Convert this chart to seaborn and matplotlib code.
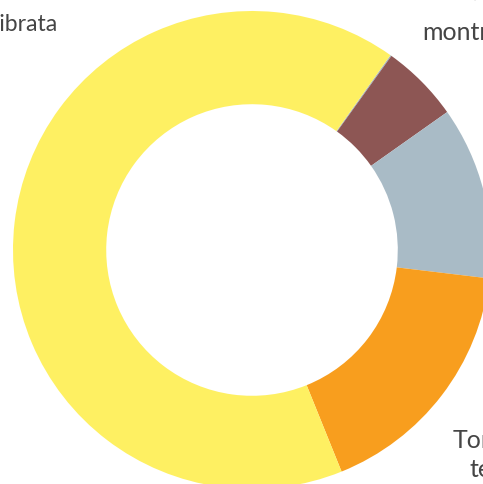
import matplotlib
matplotlib.use("Agg")
import matplotlib.pyplot as plt
import seaborn as sns

# ---- data ----
categories = ["Altro", "Marrone", "Grigio", "Arancio", "Calibrata"]
values = [0.08, 5.3, 11.7, 17.0, 66.0]
colors = ["#9FB2C4", "#8D5654", "#A9BBC6", "#F89E1E", "#FEF062"]

# labels (partially visible in the cropped view)
label_left = "Calibrata"
label_tr = ["Pulita,", "montrata"]
label_br = ["Torta", "tenera"]

sns.set_theme(style="white")
plt.rcParams["font.family"] = ["Lato", "DejaVu Sans"]

W, H = 483, 484
fig = plt.figure(figsize=(W / 100, H / 100), dpi=100)
ax = fig.add_axes([0, 0, 1, 1])

cx, cy = 252, H - 250
R = 239
ax.pie(values, colors=colors, startangle=54.6, counterclock=False,
       center=(cx, cy), radius=R, frame=True,
       wedgeprops=dict(width=R * 0.39, linewidth=0))
ax.set_xlim(0, W)
ax.set_ylim(0, H)
ax.set_aspect("equal")
ax.axis("off")

tc = "#454545"
fs = 18
ax.text(58, H - 31, label_left, ha="right", va="baseline", fontsize=16.6,
        color=tc)
ax.text(479, H + 3, label_tr[0], ha="right", va="baseline", fontsize=fs,
        color=tc)
ax.text(422, H - 40, label_tr[1], ha="left", va="baseline", fontsize=fs,
        color=tc)
ax.text(453, H - 448, label_br[0], ha="left", va="baseline", fontsize=fs,
        color=tc)
ax.text(470, H - 477, label_br[1], ha="left", va="baseline", fontsize=fs,
        color=tc)

fig.savefig("out.png", dpi=100)
